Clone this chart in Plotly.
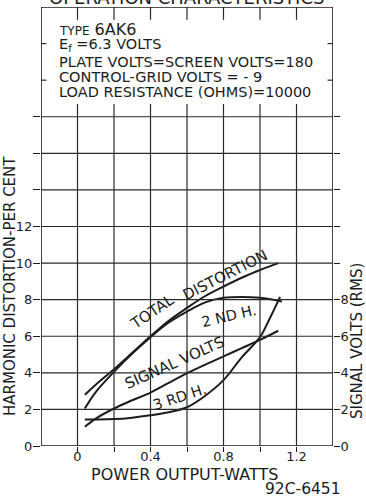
import plotly.graph_objects as go

# Power output (W) sampled along each curve
power_total = [0.04, 0.1, 0.2, 0.3, 0.4, 0.5, 0.6, 0.7, 0.8, 0.9, 1.0, 1.1]
total_distortion = [2.8, 3.35, 4.2, 5.1, 6.0, 6.85, 7.55, 8.2, 8.72, 9.2, 9.62, 10.0]

power_2nd = [0.04, 0.1, 0.2, 0.3, 0.4, 0.5, 0.6, 0.7, 0.8, 0.9, 1.0, 1.12]
second_harmonic = [2.05, 2.95, 4.05, 5.05, 5.95, 6.75, 7.35, 7.85, 8.1, 8.15, 8.1, 7.9]

power_3rd = [0.04, 0.1, 0.2, 0.3, 0.4, 0.5, 0.6, 0.7, 0.8, 0.9, 1.0, 1.05, 1.11]
third_harmonic = [1.45, 1.45, 1.47, 1.55, 1.68, 1.85, 2.12, 2.75, 3.6, 4.85, 5.95, 6.9, 8.15]

power_signal = [0.04, 0.1, 0.2, 0.3, 0.4, 0.5, 0.6, 0.7, 0.8, 0.9, 1.0, 1.1]
signal_volts = [1.05, 1.5, 2.05, 2.5, 2.92, 3.45, 3.98, 4.45, 4.9, 5.35, 5.8, 6.3]

# Axis ticks and labels
x_ticks = [0, 0.4, 0.8, 1.2]
x_tick_labels = ["0", "0.4", "0.8", "1.2"]
x_minor = [0.2, 0.6, 1.0]
y_left_ticks = [0, 2, 4, 6, 8, 10, 12]
y_left_minor = [14, 16, 18]
y_right_ticks = [0, 2, 4, 6, 8]
y_right_minor = [10, 12, 14, 16, 18]
y_side_ticks = [20, 22]

x_grid = sorted(x_ticks + x_minor)
y_grid = sorted(y_left_ticks + y_left_minor)

X_MIN, X_MAX = -0.2, 1.4
Y_MIN, Y_MAX = 0, 24
GRID_TOP = 18

W, H = 366, 498
M_L, M_R, M_T, M_B = 41, 33, 7, 52

INK = "#1c1c1c"
FONT = "DejaVu Sans"
CURVE = dict(color=INK, width=2, shape="spline", smoothing=1.0)


def paper_x(px):
    return (px - M_L) / (W - M_L - M_R)


def paper_y(py):
    return (H - M_B - py) / (H - M_T - M_B)


fig = go.Figure()
fig.add_trace(go.Scatter(x=power_total, y=total_distortion, mode="lines", line=CURVE,
                         name="TOTAL DISTORTION"))
fig.add_trace(go.Scatter(x=power_2nd, y=second_harmonic, mode="lines", line=CURVE,
                         name="2 ND H."))
fig.add_trace(go.Scatter(x=power_3rd, y=third_harmonic, mode="lines", line=CURVE,
                         name="3 RD H."))
fig.add_trace(go.Scatter(x=power_signal, y=signal_volts, mode="lines", line=CURVE,
                         name="SIGNAL VOLTS", yaxis="y2"))

shapes = []
grid_line = dict(color="#2a2a2a", width=1.2)
# vertical grid lines inside the chart area, short stubs in the note panel
for gx in x_grid:
    shapes.append(dict(type="line", xref="x", yref="y", x0=gx, x1=gx, y0=Y_MIN, y1=GRID_TOP, line=grid_line))
    shapes.append(dict(type="line", xref="x", yref="y", x0=gx, x1=gx, y0=GRID_TOP, y1=GRID_TOP + 0.7, line=grid_line))
    shapes.append(dict(type="line", xref="x", yref="y", x0=gx, x1=gx, y0=Y_MAX - 0.7, y1=Y_MAX, line=grid_line))
# horizontal grid lines
for gy in y_grid[1:]:
    shapes.append(dict(type="line", xref="x", yref="y", x0=X_MIN, x1=X_MAX, y0=gy, y1=gy, line=grid_line))
# side ticks in the note panel
for gy in y_side_ticks:
    shapes.append(dict(type="line", xref="x", yref="y", x0=X_MIN - 0.02, x1=X_MIN + 0.03, y0=gy, y1=gy, line=grid_line))
    shapes.append(dict(type="line", xref="x", yref="y", x0=X_MAX - 0.03, x1=X_MAX + 0.02, y0=gy, y1=gy, line=grid_line))
# frame
shapes.append(dict(type="rect", xref="x", yref="y", x0=X_MIN, x1=X_MAX, y0=Y_MIN, y1=Y_MAX,
                   line=dict(color=INK, width=1.6)))

annotations = []


def note(text, x, y, size=13, angle=0, xanchor="center", xref="x", yref="y"):
    annotations.append(dict(text=text, x=x, y=y, xref=xref, yref=yref,
                            showarrow=False, textangle=angle,
                            xanchor=xanchor, yanchor="middle",
                            font=dict(family=FONT, size=size, color=INK)))


def page_note(text, px, py, size=13, angle=0):
    note(text, paper_x(px), paper_y(py), size=size, angle=angle, xref="paper", yref="paper")


# operating conditions panel
note("<span style='font-size:12px'>TYPE</span> 6AK6", -0.115, 22.75, size=16, xanchor="left")
note("E<sub>f</sub> =6.3 VOLTS", -0.115, 21.9, size=14.5, xanchor="left")
note("PLATE VOLTS=SCREEN VOLTS=180", -0.115, 21.0, size=14.5, xanchor="left")
note("CONTROL-GRID VOLTS = - 9", -0.115, 20.2, size=14.5, xanchor="left")
note("LOAD RESISTANCE (OHMS)=10000", -0.115, 19.35, size=14.5, xanchor="left")

# curve labels
note("TOTAL", 0.41, 7.3, size=15, angle=-34)
note("DISTORTION", 0.81, 9.35, size=15, angle=-27)
note("2 ND H.", 0.83, 7.12, size=14.5, angle=-13)
note("SIGNAL VOLTS", 0.53, 4.55, size=15, angle=-24)
note("3 RD H.", 0.56, 2.7, size=14.5, angle=-18)

# outer titles
page_note("HARMONIC DISTORTION-PER CENT", 10, 286, size=15, angle=-90)
page_note("SIGNAL VOLTS (RMS)", 357, 341, size=15, angle=-90)
page_note("POWER OUTPUT-WATTS", 184, 474, size=16)
page_note("92C-6451", 303, 488.5, size=15.5)
page_note("OPERATION CHARACTERISTICS", 186, -3, size=18)

tick_style = dict(ticks="outside", tickwidth=1.2, tickcolor=INK)
axis_common = dict(showgrid=False, zeroline=False, showline=False,
                   tickfont=dict(family=FONT, size=13, color=INK), **tick_style)

fig.update_layout(
    width=W, height=H,
    margin=dict(l=M_L, r=M_R, t=M_T, b=M_B),
    paper_bgcolor="white", plot_bgcolor="white",
    showlegend=False,
    xaxis=dict(range=[X_MIN, X_MAX], tickvals=x_ticks, ticktext=x_tick_labels,
               ticklen=5, ticklabelstandoff=-7,
               minor=dict(tickvals=x_minor, ticklen=5, **tick_style), **axis_common),
    yaxis=dict(range=[Y_MIN, Y_MAX], tickvals=y_left_ticks,
               ticklen=7, ticklabelstandoff=-2,
               minor=dict(tickvals=y_left_minor, ticklen=7, **tick_style), **axis_common),
    yaxis2=dict(range=[Y_MIN, Y_MAX], tickvals=y_right_ticks,
                overlaying="y", side="right", ticklen=6, ticklabelstandoff=-2,
                minor=dict(tickvals=y_right_minor, ticklen=6, **tick_style), **axis_common),
    shapes=shapes,
    annotations=annotations,
)

fig.write_html("out.html")
